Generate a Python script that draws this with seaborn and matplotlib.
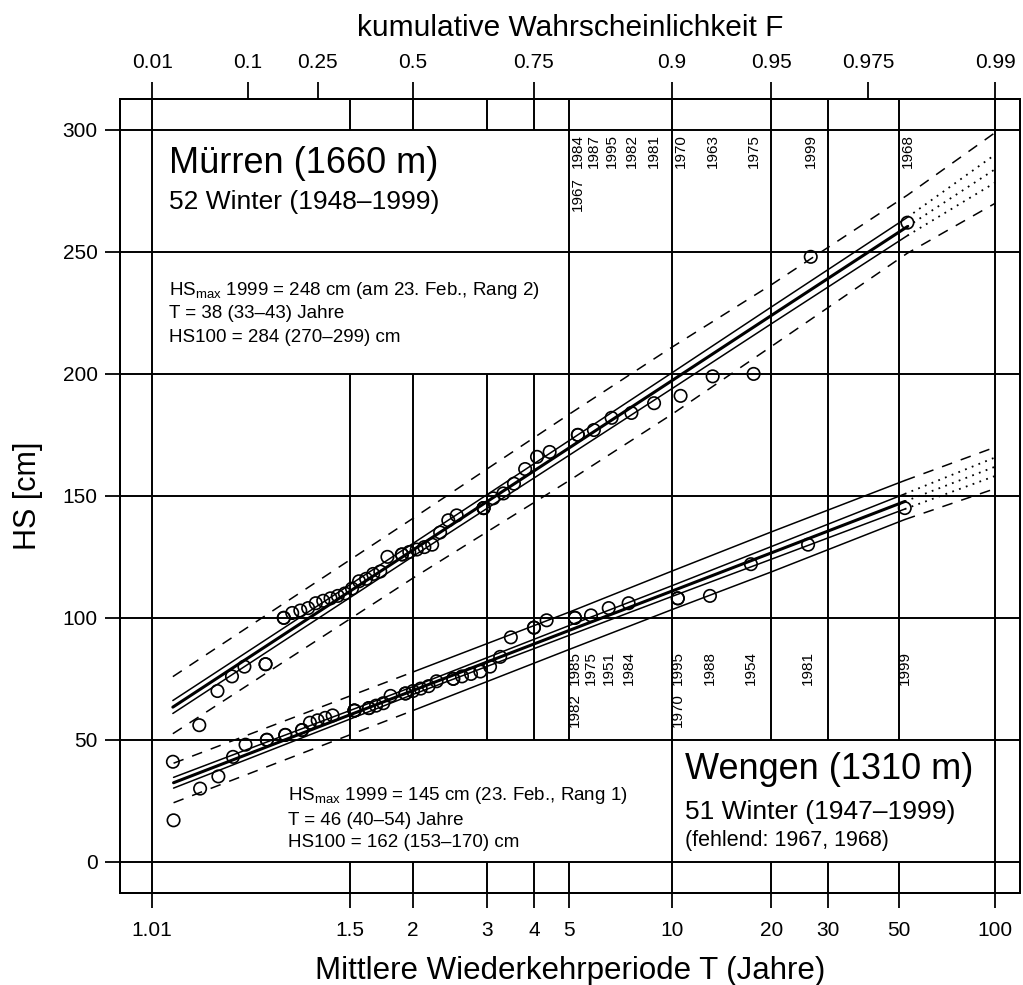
import numpy as np
import pandas as pd
import matplotlib
matplotlib.use("Agg")
import matplotlib.pyplot as plt
import seaborn as sns

# ------------------------------------------------------------------
# Annual maximum snow depth HS [cm], sorted ascending
# ------------------------------------------------------------------
muerren_hs = [41, 56, 70, 76, 80, 81, 81, 100, 100, 102, 103, 104, 106,
              107, 108, 109, 110, 112, 115, 116, 118, 119, 125, 126, 126,
              127, 128, 129, 130, 135, 140, 142, 145, 145, 145, 149, 151,
              155, 161, 166, 168, 175, 175, 177, 182, 184, 188, 191, 199,
              200, 248, 262]
wengen_hs = [17, 30, 35, 43, 48, 50, 50, 52, 52, 54, 54, 57, 58, 59, 60,
             62, 62, 62, 63, 63, 64, 65, 68, 69, 69, 70, 71, 72, 74, 75,
             75, 76, 77, 78, 80, 84, 92, 96, 96, 99, 100, 100, 101, 104,
             106, 108, 108, 109, 122, 130, 145]

# winters of the largest values (same ascending order as above)
muerren_top_years = [1967, 1984, 1987, 1995, 1982, 1981, 1970, 1963, 1975, 1999, 1968]
wengen_top_years = [1982, 1985, 1975, 1951, 1984, 1970, 1995, 1988, 1954, 1981, 1999]

# fitted return levels [cm] at return periods T [years]
muerren_T = [1.0192, 2, 5, 10, 20, 53, 100]
muerren_fit = [63.4, 127.8, 169.6, 197.3, 223.9, 260.4, 284.0]
muerren_in_hi = [66.1, 130.5, 172.6, 200.5, 227.4, 264.2, 290.0]
muerren_in_lo = [60.8, 125.2, 166.6, 194.0, 220.5, 256.7, 278.5]
muerren_ci_hi = [75.9, 140.8, 183.4, 211.0, 236.5, 273.3, 299.0]
muerren_ci_lo = [52.5, 116.3, 156.2, 183.5, 211.2, 249.5, 270.0]

wengen_T = [1.0196, 2, 5, 10, 20, 52, 100]
wengen_fit = [32.4, 70.2, 94.8, 111.0, 126.6, 147.7, 162.0]
wengen_in_hi = [34.6, 71.8, 96.8, 113.2, 129.2, 150.8, 165.8]
wengen_in_lo = [30.2, 68.6, 92.8, 108.8, 124.0, 144.6, 158.2]
wengen_ci_hi = [40.4, 77.8, 102.3, 119.2, 135.2, 156.3, 170.0]
wengen_ci_lo = [24.2, 62.0, 87.0, 103.4, 118.8, 140.3, 153.0]

# axes ticks
T_ticks = [1.01, 1.5, 2, 3, 4, 5, 10, 20, 30, 50, 100]
T_labels = ["1.01", "1.5", "2", "3", "4", "5", "10", "20", "30", "50", "100"]
F_ticks = [0.01, 0.1, 0.25, 0.5, 0.75, 0.9, 0.95, 0.975, 0.99]
F_labels = ["0.01", "0.1", "0.25", "0.5", "0.75", "0.9", "0.95", "0.975", "0.99"]
HS_ticks = [0, 50, 100, 150, 200, 250, 300]

T_MIN, T_MAX = 1.00294, 119.5
HS_MIN, HS_MAX = -12.8, 312.7

# vertical grid lines are interrupted where the text blocks sit
grid_segments = {
    1.01: [(HS_MIN, HS_MAX)],
    1.5: [(HS_MIN, 0), (50, 200), (300, HS_MAX)],
    2: [(HS_MIN, 0), (50, 200), (300, HS_MAX)],
    3: [(HS_MIN, 0), (50, 200), (300, HS_MAX)],
    4: [(HS_MIN, 0), (50, 200), (300, HS_MAX)],
    5: [(HS_MIN, 0), (50, HS_MAX)],
    10: [(HS_MIN, HS_MAX)],
    20: [(HS_MIN, 0), (50, HS_MAX)],
    30: [(HS_MIN, 0), (50, HS_MAX)],
    50: [(HS_MIN, 0), (50, HS_MAX)],
    100: [(HS_MIN, HS_MAX)],
}


# ------------------------------------------------------------------
# Gumbel probability scale: x data are return periods T
# ------------------------------------------------------------------
def gumbel_fwd(T):
    T = np.asarray(T, dtype=float)
    with np.errstate(all="ignore"):
        F = np.clip(1.0 - 1.0 / T, 1e-12, 1 - 1e-12)
        return -np.log(-np.log(F))


def gumbel_inv(y):
    y = np.asarray(y, dtype=float)
    with np.errstate(all="ignore"):
        return 1.0 / (1.0 - np.exp(-np.exp(-y)))


def plotting_positions(hs):
    df = pd.DataFrame({"hs": hs})
    n = len(df)
    rank = df["hs"].rank(method="max")
    df["F"] = rank / (n + 1)
    df["T"] = 1.0 / (1.0 - df["F"])
    return df


sns.set_theme(style="white")
plt.rcParams["font.family"] = ["Liberation Sans", "DejaVu Sans"]
plt.rcParams["mathtext.fontset"] = "custom"
plt.rcParams["mathtext.rm"] = "Liberation Sans"
plt.rcParams["axes.linewidth"] = 1.4
plt.rcParams["axes.edgecolor"] = "black"
for key in ("text.color", "axes.labelcolor", "xtick.color", "ytick.color",
            "xtick.labelcolor", "ytick.labelcolor"):
    plt.rcParams[key] = "black"

fig = plt.figure(figsize=(10.23, 9.85), dpi=100)
ax = fig.add_axes([120 / 1023, 92 / 985, 900 / 1023, 794 / 985])
ax.set_xscale("function", functions=(gumbel_fwd, gumbel_inv))
ax.set_xlim(T_MIN, T_MAX)
ax.set_ylim(HS_MIN, HS_MAX)

GRID_LW = 1.4
for hs in HS_ticks:
    ax.axhline(hs, color="black", lw=GRID_LW, zorder=1)
for T, segs in grid_segments.items():
    for lo, hi in segs:
        ax.vlines(T, lo, hi, color="black", lw=GRID_LW, zorder=1)

DASH = (0, (7, 6))
DOT = (0, (1, 3))


def draw_line(Ts, vals, style, lw):
    sns.lineplot(x=Ts, y=vals, ax=ax, color="black", lw=lw, linestyle=style,
                 estimator=None, sort=False, zorder=3)


# Mürren fit: solid over the data range, dotted extrapolation to T=100
for vals, lw in [(muerren_fit, 2.2), (muerren_in_hi, 1.1), (muerren_in_lo, 1.1)]:
    draw_line(muerren_T[:-1], vals[:-1], "-", lw)
    draw_line(muerren_T[-2:], vals[-2:], DOT, 1.3)
for vals in (muerren_ci_hi, muerren_ci_lo):
    draw_line(muerren_T, vals, DASH, 1.1)

# Wengen fit
for vals, lw in [(wengen_fit, 2.2), (wengen_in_hi, 1.1), (wengen_in_lo, 1.1)]:
    draw_line(wengen_T[:-1], vals[:-1], "-", lw)
    draw_line(wengen_T[-2:], vals[-2:], DOT, 1.3)
for vals in (wengen_ci_hi, wengen_ci_lo):
    draw_line(wengen_T[:2], vals[:2], DASH, 1.1)
    draw_line(wengen_T[1:-1], vals[1:-1], "-", 1.1)
    draw_line(wengen_T[-2:], vals[-2:], DASH, 1.1)

# observations
mu = plotting_positions(muerren_hs)
we = plotting_positions(wengen_hs)
for df in (mu, we):
    sns.scatterplot(data=df, x="T", y="hs", ax=ax, marker="o", s=80,
                    facecolors="none", edgecolor="black", linewidth=1.2,
                    zorder=4, legend=False)


# year labels of the largest winters
def year_labels(df, years, y_top, step):
    top = df.tail(len(years)).copy()
    top["year"] = years
    top["level"] = top.groupby("T").cumcount(ascending=False)
    for T, year, level in zip(top["T"], top["year"], top["level"]):
        ax.text(T, y_top - step * level, str(int(year)),
                rotation=90, ha="center", va="top", fontsize=11, zorder=5)


year_labels(mu, muerren_top_years, 298.5, 18.0)
year_labels(we, wengen_top_years, 86.4, 17.4)

# axes: bottom return period, top cumulative probability
ax.set_xticks(T_ticks)
ax.set_xticklabels(T_labels)
ax.xaxis.set_minor_locator(matplotlib.ticker.NullLocator())
ax.set_yticks(HS_ticks)
ax.tick_params(axis="both", which="major", direction="out", color="black",
               width=1.3, labelsize=15, colors="black")
ax.tick_params(axis="x", length=11, pad=9, bottom=True)
ax.tick_params(axis="y", length=11, pad=5, left=True)
ax.set_xlabel("Mittlere Wiederkehrperiode T (Jahre)", fontsize=22.5, labelpad=12)
ax.set_ylabel("HS [cm]", fontsize=22, labelpad=14)

ax_top = ax.twiny()
ax_top.set_xscale("function", functions=(gumbel_fwd, gumbel_inv))
ax_top.set_xlim(T_MIN, T_MAX)
ax_top.set_xticks([1.0 / (1.0 - F) for F in F_ticks])
ax_top.set_xticklabels(F_labels)
ax_top.xaxis.set_minor_locator(matplotlib.ticker.NullLocator())
ax_top.tick_params(axis="x", direction="out", length=12, width=1.3, pad=7.4,
                   labelsize=15, top=True, colors="black")
ax_top.set_xlabel("kumulative Wahrscheinlichkeit F", fontsize=21.5, labelpad=12.5)
ax_top.grid(False)
ax.grid(False)

# text blocks
ax.text(0.054, 0.919, "Mürren (1660 m)", transform=ax.transAxes,
        fontsize=26, va="center", ha="left")
ax.text(0.054, 0.870, "52 Winter (1948–1999)", transform=ax.transAxes,
        fontsize=19, va="center", ha="left")
muerren_stats = [r"HS$_{\rm max}$ 1999 = 248 cm (am 23. Feb., Rang 2)",
                 "T = 38 (33–43) Jahre",
                 "HS100 = 284 (270–299) cm"]
for txt, yy in zip(muerren_stats, [0.759, 0.730, 0.700]):
    ax.text(0.054, yy, txt, transform=ax.transAxes, fontsize=13.5,
            va="center", ha="left")

ax.text(0.628, 0.155, "Wengen (1310 m)", transform=ax.transAxes,
        fontsize=26, va="center", ha="left")
ax.text(0.628, 0.102, "51 Winter (1947–1999)", transform=ax.transAxes,
        fontsize=19, va="center", ha="left")
ax.text(0.628, 0.0667, "(fehlend: 1967, 1968)", transform=ax.transAxes,
        fontsize=15.5, va="center", ha="left")
wengen_stats = [r"HS$_{\rm max}$ 1999 = 145 cm (23. Feb., Rang 1)",
                "T = 46 (40–54) Jahre",
                "HS100 = 162 (153–170) cm"]
for txt, yy in zip(wengen_stats, [0.1234, 0.0919, 0.0642]):
    ax.text(0.1867, yy, txt, transform=ax.transAxes, fontsize=13.5,
            va="center", ha="left")

fig.savefig("out.png", dpi=100, facecolor="white")
